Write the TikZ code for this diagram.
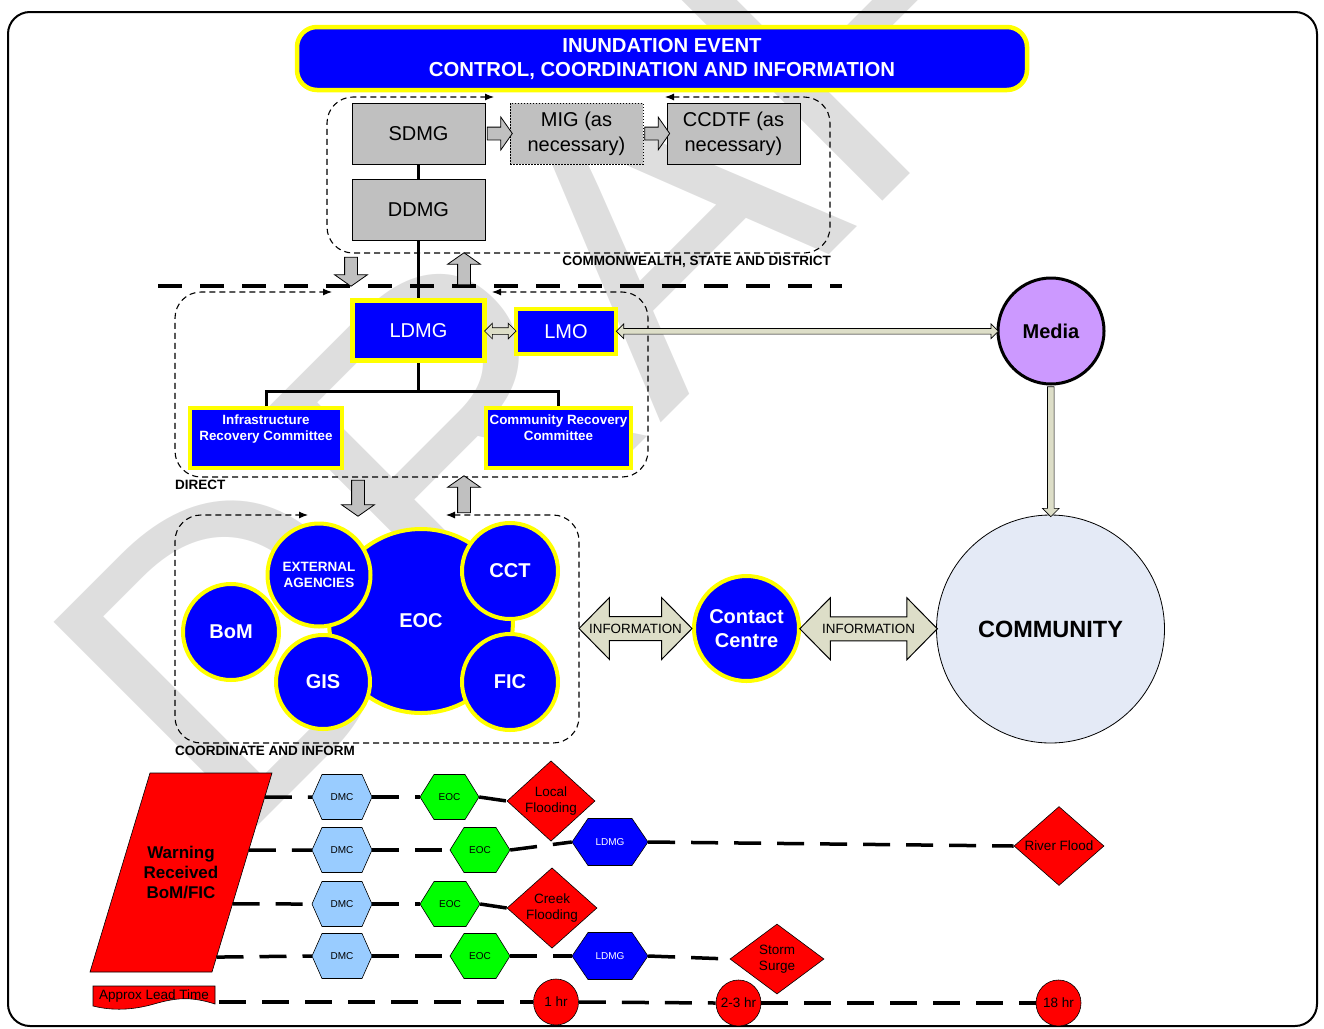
\documentclass[tikz,border=0pt]{standalone}
\usepackage{fontspec}
\setmainfont{Liberation Sans}
\usetikzlibrary{shapes.geometric,shapes.arrows,arrows.meta,calc}
\definecolor{bblue}{RGB}{0,0,255}
\definecolor{byellow}{RGB}{255,255,0}
\definecolor{bgray}{RGB}{192,192,192}
\definecolor{dmcblue}{RGB}{153,204,255}
\definecolor{eocgreen}{RGB}{0,255,0}
\definecolor{bred}{RGB}{255,0,0}
\definecolor{mediapurple}{RGB}{204,153,255}
\definecolor{commfill}{RGB}{228,234,246}
\definecolor{infofill}{RGB}{221,222,200}
\definecolor{wmgray}{RGB}{222,222,222}
\newcommand{\fsz}[2]{\fontsize{#1}{#2}\selectfont}
\newcommand{\hexa}[9]{%
  \filldraw[fill=#7, draw=black, line width=0.6pt] (#2,#3) ++({-#4/2},0) -- ++(#6,{-#5/2}) -- ++({#4-2*#6},0) -- ++(#6,{#5/2}) -- ++(-#6,{#5/2}) -- ++({-(#4-2*#6)},0) -- cycle;
  \node[inner sep=0pt, minimum width=#4pt, minimum height=#5pt, text=#8, font=\fsz{10}{12}] (#1) at (#2,#3) {#9};}
\begin{document}
\begin{tikzpicture}[x=1pt,y=-1pt,
  bluebox/.style={draw=byellow, fill=bblue, line width=4.5pt, text=white, inner sep=0pt, align=center},
  bluecirc/.style={circle, draw=byellow, fill=bblue, line width=4pt, text=white, inner sep=0pt, align=center, font=\bfseries\fsz{20}{24}},
  graybox/.style={draw=black, fill=bgray, line width=1pt, minimum width=133pt, minimum height=61pt, inner sep=0pt, align=center, font=\fsz{20}{25}},
  frame/.style={draw=black, dash pattern=on 6pt off 4pt, line width=1.1pt, rounded corners=26pt, {Latex[length=9pt,width=7pt]}-{Latex[length=9pt,width=7pt]}},
  blocklabel/.style={font=\bfseries\fsz{13.5}{16}, inner sep=0pt},
  grayarrow/.style={single arrow, draw=black, fill=bgray, line width=0.8pt, inner xsep=0pt, inner ysep=6pt, single arrow head extend=10pt, single arrow tip angle=110},
  linkarrow/.style={double arrow, draw=black, fill=infofill, line width=0.7pt, inner xsep=0pt, inner ysep=3pt, double arrow head extend=4.5pt, double arrow tip angle=90},
  infoarrow/.style={double arrow, draw=black, fill=infofill, line width=1pt, inner xsep=0pt, inner ysep=11.5pt, double arrow head extend=19pt, double arrow tip angle=91},
  timeline/.style={line width=3.5pt, dash pattern=on 27pt off 16pt},
  flood/.style={diamond, draw=black, fill=bred, line width=0.6pt, inner sep=0pt, align=center, font=\fsz{13.5}{16}},
  lead/.style={ellipse, draw=black, fill=bred, line width=0.6pt, inner ysep=0pt, inner xsep=-2pt, minimum width=45pt, minimum height=46pt, font=\fsz{13.5}{16}},
]
\useasboundingbox (0,0) rectangle (1324,1028);
% watermark
\node[anchor=base west, rotate=45, inner sep=0pt, text=wmgray, font=\fsz{419}{419}] (wm) at (233,851) {DRAFT};
% outer frame
\draw[line width=2pt, rounded corners=22pt] (8,12) rectangle (1317,1026);
% title
\node[bluebox, rounded corners=20pt, minimum width=730pt, minimum height=63pt, font=\bfseries\fsz{20.3}{24}] (title) at (662,58.5) {INUNDATION EVENT\\CONTROL, COORDINATION AND INFORMATION};
% dashed frames
\draw[frame] (665,97) -- (830,97) -- (830,253) -- (327,253) -- (327,97) -- (494,97);
\draw[frame] (492,292) -- (648,292) -- (648,477) -- (175,477) -- (175,292) -- (332,292);
\draw[frame] (446,515) -- (579,515) -- (579,743) -- (175,743) -- (175,515) -- (308,515);
\node[blocklabel, anchor=east] (lcsd) at (831,262) {COMMONWEALTH, STATE AND DISTRICT};
\node[blocklabel, anchor=west] (ldir) at (175,485) {DIRECT};
\node[blocklabel, anchor=west] (lcoord) at (175,751) {COORDINATE AND INFORM};
% separator
\coordinate (sepL) at (158,286);
\coordinate (sepR) at (842,286);
\draw[line width=4pt, dash pattern=on 24pt off 18pt] (sepL) -- (sepR);
% gray boxes
\node[graybox] (sdmg) at (418.5,133.5) {SDMG};
\node[graybox] (ddmg) at (418.5,210) {DDMG};
\node[graybox, dash pattern=on 1.5pt off 1.5pt, line width=0.7pt] (mig) at (576.5,133.5) {MIG (as\\necessary)};
\node[graybox] (ccdtf) at (733.5,133.5) {CCDTF (as\\necessary)};
\node[grayarrow, minimum height=25pt] (a1) at ($(sdmg.east)!0.5!(mig.west)$) {};
\node[grayarrow, minimum height=25pt] (a2) at ($(mig.east)!0.5!(ccdtf.west)$) {};
% level arrows
\node[grayarrow, rotate=-90, minimum height=29pt] (dn1) at (351,269.5) {};
\node[grayarrow, rotate=90, minimum height=32pt] (up1) at (464,271) {};
\node[grayarrow, rotate=-90, minimum height=36pt] (dn2) at (358,496) {};
\node[grayarrow, rotate=90, minimum height=37pt] (up2) at (464,496.5) {};
% local group
\node[bluebox, minimum width=132pt, minimum height=60pt, font=\fsz{20}{24}] (ldmg) at (418.5,330.5) {LDMG};
\node[bluebox, minimum width=100pt, minimum height=45pt, font=\fsz{20}{24}] (lmo) at (566,331.5) {LMO};
\node[bluebox, minimum width=152pt, minimum height=60pt, font=\bfseries\fsz{13.4}{16}] (irc) at (266,438) {Infrastructure\\Recovery Committee\\\strut};
\node[bluebox, minimum width=145pt, minimum height=60pt, font=\bfseries\fsz{13.4}{16}] (crc) at (558.5,438) {Community Recovery\\Committee\\\strut};
\draw[line width=3.5pt] (sdmg.south) -- (ddmg.north);
\draw[line width=3pt] (ddmg.south) -- (ldmg.north);
\draw[line width=3pt] (ldmg.south) -- ++(0,29) coordinate (tj);
\draw[line width=3pt] (irc.north) |- (tj) -| (crc.north);
% media & community
\node[circle, draw=black, line width=3pt, fill=mediapurple, minimum size=106pt, inner sep=0pt, font=\bfseries\fsz{20}{24}] (media) at (1051,331) {Media};
\node[circle, draw=black, line width=0.8pt, fill=commfill, minimum size=228pt, inner sep=0pt, font=\bfseries\fsz{23.5}{28}] (comm) at (1050.5,629) {COMMUNITY};
\node[linkarrow, minimum height=31.5pt] (lk1) at ($(ldmg.east)!0.5!(lmo.west)$) {};
\node[linkarrow, minimum height=382pt, inner ysep=2.5pt] (lk2) at ($(lmo.east)!0.5!(media.west)$) {};
\node[single arrow, draw=black, fill=infofill, line width=0.7pt, inner xsep=0pt, inner ysep=3pt, single arrow head extend=5pt, single arrow tip angle=90, rotate=-90, minimum height=130pt] (lk3) at ($(media.south)!0.5!(comm.north)$) {};
% contact centre
\node[bluecirc, minimum size=105pt] (cc) at (746.5,628.5) {Contact\\Centre};
\node[infoarrow, minimum height=113pt, label={[font=\fsz{13.4}{16}]center:INFORMATION}] (info1) at ($(cc.west)+(-56.5,0)$) {};
\node[infoarrow, minimum height=137.5pt, label={[font=\fsz{13.4}{16}]center:INFORMATION}] (info2) at ($(cc.east)!0.5!(comm.west)$) {};
% EOC cluster
\node[bluecirc, minimum size=184pt] (eoc) at (421,621) {EOC};
\node[bluecirc, minimum size=103pt, font=\bfseries\fsz{13.5}{16}] (ext) at (319,575) {EXTERNAL\\AGENCIES};
\node[bluecirc, minimum size=96pt] (bom) at (231,632) {BoM};
\node[bluecirc, minimum size=94pt] (gis) at (323,682) {GIS};
\node[bluecirc, minimum size=96pt] (cct) at (510,571) {CCT};
\node[bluecirc, minimum size=96pt] (fic) at (510,682) {FIC};
% warning
\filldraw[fill=bred, draw=black, line width=0.6pt] (150,773) coordinate (wtl) -- (272,773) coordinate (wtr) -- (212,972) coordinate (wbr) -- (90,972) coordinate (wbl) -- cycle;
\node[font=\bfseries\fsz{17}{20}, align=center] (warn) at (181,872) {Warning\\Received\\BoM/FIC};
\coordinate (w1) at ($(wtr)!0.1206!(wbr)$);
\coordinate (w2) at ($(wtr)!0.387!(wbr)$);
\coordinate (w3) at ($(wtr)!0.658!(wbr)$);
\coordinate (w4) at ($(wtr)!0.925!(wbr)$);
% rows
\hexa{dmc1}{342}{797}{60}{45}{10}{dmcblue}{black}{DMC}
\hexa{eoc1}{449.5}{797}{59}{45}{14}{eocgreen}{black}{EOC}
\node[flood, minimum width=88pt, minimum height=66pt] (flocal) at (551,801) {Local\\Flooding};
\hexa{dmc2}{342}{850}{60}{45}{10}{dmcblue}{black}{DMC}
\hexa{eoc2}{480}{850}{60}{45}{14}{eocgreen}{black}{EOC}
\hexa{ldmgb}{610}{842}{76}{47}{16}{bblue}{white}{LDMG}
\node[flood, minimum width=90pt, minimum height=67pt] (friver) at (1059,846) {River Flood};
\hexa{dmc3}{342}{904}{60}{45}{10}{dmcblue}{black}{DMC}
\hexa{eoc3}{450}{904}{60}{45}{14}{eocgreen}{black}{EOC}
\node[flood, minimum width=90pt, minimum height=68pt] (fcreek) at (552,908) {Creek\\Flooding};
\hexa{dmc4}{342}{956}{60}{45}{10}{dmcblue}{black}{DMC}
\hexa{eoc4}{480}{956}{60}{45}{14}{eocgreen}{black}{EOC}
\hexa{ldmgd}{610}{956}{76}{47}{16}{bblue}{white}{LDMG}
\node[flood, minimum width=94pt, minimum height=70pt] (fstorm) at (777,959) {Storm\\Surge};
% lead time
\filldraw[fill=bred, draw=black, line width=0.6pt] (93,986) -- (215,986) -- (215,1004) .. controls (190,996) and (175,998) .. (154,1004) .. controls (133,1010) and (113,1011) .. (93,1006) -- cycle;
\node[font=\fsz{13.5}{16}, inner sep=0pt] (alt) at (154,995.5) {Approx Lead Time};
\node[lead] (t1) at (556,1002) {1 hr};
\node[lead] (t2) at (738.5,1003) {2-3 hr};
\node[lead] (t3) at (1058.5,1003) {18 hr};
\coordinate (ltstart) at (219,1002);
% timeline connectors
\draw[timeline] (w1) -- (dmc1.west);
\draw[timeline] (dmc1.east) -- (eoc1.west);
\draw[timeline] (eoc1.east) -- (flocal.west);
\draw[timeline] (w2) -- (dmc2.west);
\draw[timeline] (dmc2.east) -- (eoc2.west);
\draw[timeline] (eoc2.east) -- (ldmgb.west);
\draw[timeline] (ldmgb.east) -- (friver.west);
\draw[timeline] (w3) -- (dmc3.west);
\draw[timeline] (dmc3.east) -- (eoc3.west);
\draw[timeline] (eoc3.east) -- (fcreek.west);
\draw[timeline] (w4) -- (dmc4.west);
\draw[timeline] (dmc4.east) -- (eoc4.west);
\draw[timeline] (eoc4.east) -- (ldmgd.west);
\draw[timeline] (ldmgd.east) -- (fstorm.west);
\draw[timeline] (ltstart) -- (t1.west);
\draw[timeline] (t1.east) -- (t2.west);
\draw[timeline] (t2.east) -- (t3.west);
\end{tikzpicture}
\end{document}
